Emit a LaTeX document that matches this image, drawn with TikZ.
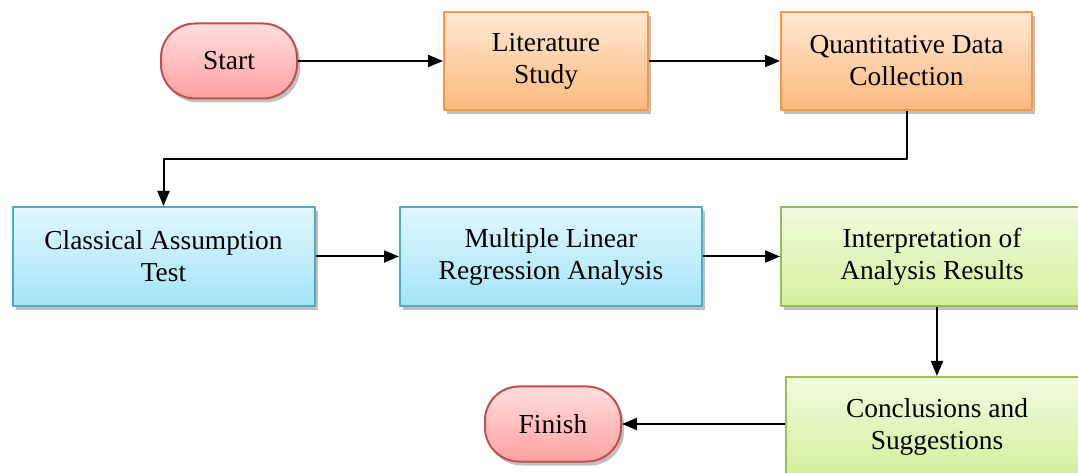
\documentclass[tikz,border=0pt]{standalone}
\usepackage{fontspec}
\setmainfont{Liberation Serif}
\usetikzlibrary{arrows.meta,shadows}
\definecolor{pinkline}{RGB}{192,80,77}
\definecolor{pinktop}{RGB}{255,222,222}
\definecolor{pinkbot}{RGB}{255,160,162}
\definecolor{orgline}{RGB}{247,150,70}
\definecolor{orgtop}{RGB}{255,232,210}
\definecolor{orgbot}{RGB}{251,185,125}
\definecolor{blueline}{RGB}{75,172,198}
\definecolor{bluetop}{RGB}{224,247,253}
\definecolor{bluebot}{RGB}{164,228,248}
\definecolor{grnline}{RGB}{155,187,89}
\definecolor{grntop}{RGB}{242,251,224}
\definecolor{grnbot}{RGB}{210,240,155}

\begin{document}
\begin{tikzpicture}[x=0.5pt,y=0.5pt,line join=round,
  font=\fontsize{13.7}{16}\selectfont,
  boxbase/.style={align=center,inner sep=0pt,line width=1pt,
    drop shadow={shadow xshift=1.5pt,shadow yshift=-2pt,opacity=0.25,fill=black}},
  terminal/.style={boxbase,rectangle,rounded corners=17pt,draw=pinkline,
    top color=pinktop,bottom color=pinkbot,minimum width=68pt,minimum height=37.5pt},
  orgbox/.style={boxbase,rectangle,draw=orgline,top color=orgtop,bottom color=orgbot,minimum height=49pt},
  bluebox/.style={boxbase,rectangle,draw=blueline,top color=bluetop,bottom color=bluebot,
    minimum width=151pt,minimum height=49.5pt},
  grnbox/.style={boxbase,rectangle,draw=grnline,top color=grntop,bottom color=grnbot,
    minimum width=151pt,minimum height=49.5pt},
  arr/.style={-{Triangle[length=7.5pt,width=6pt]},line width=1pt,black}]
\useasboundingbox (0,0) rectangle (1078,472);
% top row
\node[terminal] (start) at (229,411) {Start};
\node[orgbox,minimum width=102pt] (lit) at (546,411) {Literature\\Study};
\node[orgbox,minimum width=125.5pt] (qdc) at (906.5,411) {Quantitative Data\\Collection};
% middle row
\node[bluebox] (cat) at (163.5,215.5) {Classical Assumption\\Test};
\node[bluebox] (mlr) at (551,215.5) {Multiple Linear\\Regression Analysis};
\node[grnbox] (interp) at (932,215.5) {Interpretation of\\Analysis Results};
% bottom row
\node[grnbox] (concl) at (937,45.5) {Conclusions and\\Suggestions};
\node[terminal] (finish) at (553,48) {Finish};
% connectors
\draw[arr] (start) -- (lit);
\draw[arr] (lit) -- (qdc);
\draw[arr] (qdc.south) -- ++(0,-48) -| (cat.north);
\draw[arr] (cat) -- (mlr);
\draw[arr] (mlr) -- (interp);
\draw[arr] (interp.south -| concl.north) -- (concl.north);
\draw[arr] (concl.west |- finish.east) -- (finish.east);
\end{tikzpicture}
\end{document}
